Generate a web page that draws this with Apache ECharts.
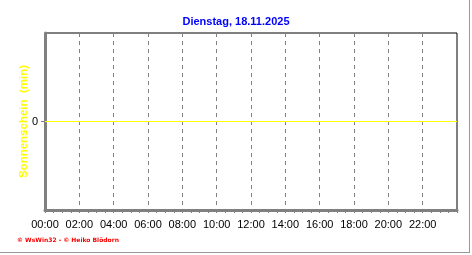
<!DOCTYPE html>
<html><head><meta charset="utf-8">
<script src="https://cdn.jsdelivr.net/npm/echarts@6/dist/echarts.min.js"></script>
<style>html,body{margin:0;padding:0;background:#fff}#c{width:472px;height:255px}</style>
</head><body><div id="c"></div>
<script>
const titleText = "Dienstag, 18.11.2025";
const yAxisName = "Sonnenschein  (min)";
const creditText = "\u00a9 WsWin32 - \u00a9 Heiko Bl\u00f6dorn";
const hours = [0, 24];
const sunshineMinutes = [0, 0];
const xTickHours = [0, 2, 4, 6, 8, 10, 12, 14, 16, 18, 20, 22];
const yTickValues = [0];

const chart = echarts.init(document.getElementById('c'), null, {renderer: 'canvas'});
const pad = n => (n < 10 ? '0' : '') + n;
chart.setOption({
  animation: false,
  backgroundColor: '#fff',
  title: {
    text: titleText, left: 'center', top: 11,
    textStyle: {color: '#0000ff', fontFamily: 'Liberation Sans', fontWeight: 'bold', fontSize: 11}
  },
  grid: {left: 45, right: 15, top: 33, bottom: 45, show: true, borderColor: '#000', borderWidth: 1, backgroundColor: 'transparent'},
  xAxis: {
    type: 'value', min: 0, max: 24, interval: 2,
    axisLine: {show: true, onZero: false, lineStyle: {color: '#808080', width: 3}},
    axisTick: {show: true, length: 3, lineStyle: {color: '#808080'}},
    minorTick: {show: true, splitNumber: 4, length: 3, lineStyle: {color: '#808080'}},
    axisLabel: {
      customValues: xTickHours,
      formatter: v => pad(v) + ':00',
      color: '#000', fontFamily: 'Liberation Sans', fontSize: 11, margin: 9
    },
    splitLine: {show: true, lineStyle: {color: '#808080', type: [4, 4], width: 1}}
  },
  yAxis: {
    type: 'value', min: -1, max: 1, interval: 1,
    name: yAxisName, nameLocation: 'middle', nameGap: 15, nameRotate: 90, nameMoveOverlap: false,
    nameTextStyle: {color: '#ffff00', fontFamily: 'Liberation Sans', fontWeight: 'bold', fontSize: 11.5},
    axisLine: {show: true, onZero: false, lineStyle: {color: '#808080', width: 3}},
    axisTick: {show: true, length: 4, customValues: yTickValues, lineStyle: {color: '#808080'}},
    axisLabel: {customValues: yTickValues, color: '#000', fontFamily: 'Liberation Sans', fontSize: 11, margin: 7},
    splitLine: {show: false}
  },
  series: [{
    type: 'line', data: hours.map((h, i) => [h, sunshineMinutes[i]]),
    symbol: 'none', lineStyle: {color: '#ffff00', width: 1}, z: 1
  }],
  graphic: [
    {type: 'line', shape: {x1: 0, y1: 252.5, x2: 470, y2: 252.5}, style: {stroke: '#999', lineWidth: 1}},
    {type: 'line', shape: {x1: 469.5, y1: 0, x2: 469.5, y2: 253}, style: {stroke: '#999', lineWidth: 1}},
    {type: 'text', left: 17, top: 237, style: {text: creditText, fill: '#ff0000', font: 'bold 6px "DejaVu Sans"'}}
  ]
});
</script></body></html>
